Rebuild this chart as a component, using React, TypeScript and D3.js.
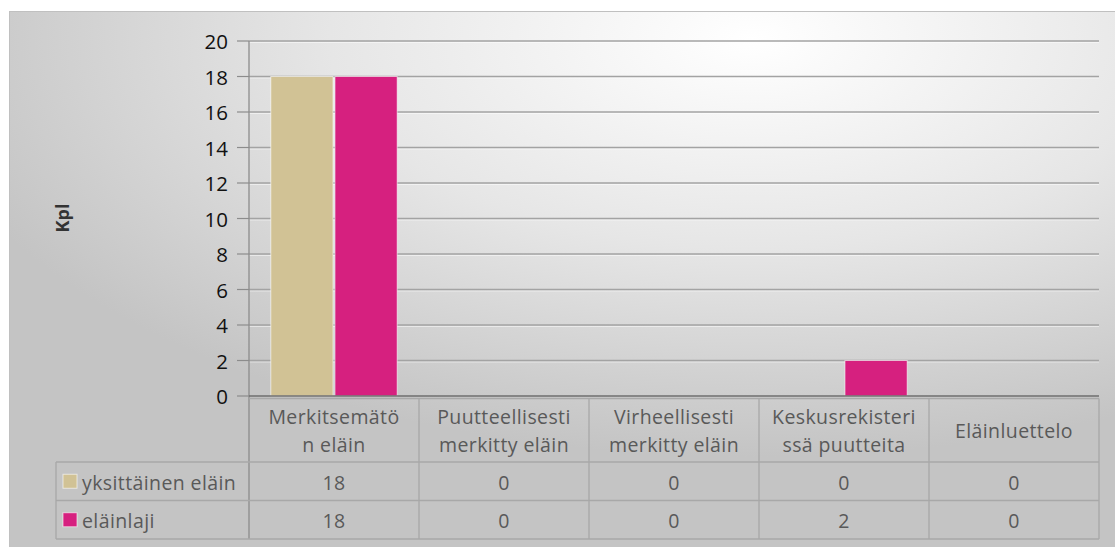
import * as d3 from "d3";

const categories = [
  "Merkitsemätön eläin",
  "Puutteellisesti merkitty eläin",
  "Virheellisesti merkitty eläin",
  "Keskusrekisterissä puutteita",
  "Eläinluettelo",
];
// header lines as wrapped in the original table
const headerLines = [
  ["Merkitsemätö", "n eläin"],
  ["Puutteellisesti", "merkitty eläin"],
  ["Virheellisesti", "merkitty eläin"],
  ["Keskusrekisteri", "ssä puutteita"],
  ["Eläinluettelo"],
];
const seriesNames = ["yksittäinen eläin", "eläinlaji"];
const yksittainen = [18, 0, 0, 0, 0];
const elainlaji = [18, 0, 0, 2, 0];
const seriesColors = ["#d1c295", "#d6207f"];
const yTicks = [0, 2, 4, 6, 8, 10, 12, 14, 16, 18, 20];

const W = 1115;
const H = 547;
const plot = { left: 249, right: 1099, top: 41, bottom: 396 };
const table = { legendLeft: 56, headerBottom: 462, rowH: 38.5 };
const font = "'Open Sans', 'Liberation Sans', sans-serif";

export default function App() {
  const series = [yksittainen, elainlaji];
  const x = d3
    .scaleBand<string>()
    .domain(categories)
    .range([plot.left, plot.right]);
  const inner = d3
    .scaleBand<number>()
    .domain([0, 1])
    .range([0, x.bandwidth()])
    .paddingInner(0.03)
    .paddingOuter(0.34);
  const y = d3.scaleLinear().domain([0, 20]).range([plot.bottom, plot.top]);

  const rowTop = (i: number) => table.headerBottom + i * table.rowH;
  const tableBottom = rowTop(2);
  const gridColor = "#a3a3a3";
  const tableColor = "#a8a8a8";

  return (
    <svg
      width={W}
      height={H}
      style={{ position: "absolute", left: 0, top: 0, display: "block" }}
      fontFamily={font}
    >
      <defs>
        <radialGradient id="bg" cx="0.66" cy="0.05" r="0.75" gradientUnits="objectBoundingBox">
          <stop offset="0" stopColor="#ffffff" />
          <stop offset="0.5" stopColor="#e6e6e6" />
          <stop offset="1" stopColor="#c4c4c4" />
        </radialGradient>
      </defs>
      <rect x={0} y={0} width={W} height={H} fill="#ffffff" />
      <rect x={9.5} y={11.5} width={W + 10} height={H + 10} fill="url(#bg)" stroke="#c0c0c0" />

      {/* gridlines */}
      {yTicks.map((t) => (
        <g key={t}>
          {t > 0 && (
            <>
              <line x1={plot.left} x2={plot.right} y1={y(t) + 1.5} y2={y(t) + 1.5} stroke="#ffffff" strokeOpacity={0.5} />
              <line x1={plot.left} x2={plot.right} y1={y(t)} y2={y(t)} stroke={gridColor} strokeWidth={1.4} />
            </>
          )}
          <line x1={plot.left - 12} x2={plot.left} y1={y(t)} y2={y(t)} stroke="#8c8c8c" strokeWidth={1.2} />
          <text
            x={plot.left - 21}
            y={y(t)}
            textAnchor="end"
            dominantBaseline="central"
            fontSize={20.5}
            fill="#111"
          >
            {t}
          </text>
        </g>
      ))}

      {/* bars */}
      {categories.map((c, ci) => (
        <g key={c}>
          {series.map((s, si) =>
            s[ci] > 0 ? (
              <rect
                key={si}
                x={(x(c) as number) + (inner(si) as number)}
                y={y(s[ci])}
                width={inner.bandwidth()}
                height={y(0) - y(s[ci])}
                fill={seriesColors[si]}
                stroke="#ffffff"
                strokeOpacity={0.6}
                strokeWidth={1}
              />
            ) : null
          )}
        </g>
      ))}

      {/* y axis line and zero line */}
      <line x1={plot.left} x2={plot.left} y1={plot.top} y2={tableBottom} stroke="#8c8c8c" strokeWidth={1.3} />
      <line x1={plot.left} x2={plot.right} y1={plot.bottom} y2={plot.bottom} stroke="#6e6e6e" strokeWidth={1.5} />

      {/* y title */}
      <text
        transform={`translate(62,218) rotate(-90)`}
        textAnchor="middle"
        dominantBaseline="central"
        fontSize={18}
        fontWeight="bold"
        fill="#333"
      >
        Kpl
      </text>

      {/* data table */}
      <g stroke={tableColor} strokeWidth={1.3} fill="none">
        <line x1={plot.left} x2={plot.right} y1={plot.bottom + 2.5} y2={plot.bottom + 2.5} />
        {[0, 1, 2].map((i) => (
          <line key={i} x1={table.legendLeft} x2={plot.right} y1={rowTop(i)} y2={rowTop(i)} />
        ))}
        <line x1={table.legendLeft} x2={table.legendLeft} y1={rowTop(0)} y2={tableBottom} />
        {categories.map((c) => (
          <line
            key={c}
            x1={(x(c) as number) + x.bandwidth()}
            x2={(x(c) as number) + x.bandwidth()}
            y1={plot.bottom + 2.5}
            y2={tableBottom}
          />
        ))}
      </g>
      {categories.map((c, ci) => {
        const cx = (x(c) as number) + x.bandwidth() / 2;
        const lines = headerLines[ci];
        const midY = (plot.bottom + 2 + table.headerBottom) / 2;
        return (
          <g key={c} fill="#595959" fontSize={19.5} textAnchor="middle" letterSpacing={0.4}>
            {lines.map((l, li) => (
              <text
                key={li}
                x={cx}
                y={midY + (li - (lines.length - 1) / 2) * 28}
                dominantBaseline="central"
              >
                {l}
              </text>
            ))}
            {series.map((s, si) => (
              <text key={si} x={cx} y={rowTop(si) + table.rowH / 2 + 1} dominantBaseline="central">
                {s[ci]}
              </text>
            ))}
          </g>
        );
      })}
      {seriesNames.map((n, si) => (
        <g key={n}>
          <rect
            x={table.legendLeft + 7}
            y={rowTop(si) + table.rowH / 2 - 7}
            width={14}
            height={14}
            fill={seriesColors[si]}
            stroke="#ffffff"
            strokeOpacity={0.6}
          />
          <text
            x={table.legendLeft + 26}
            y={rowTop(si) + table.rowH / 2 + 1}
            dominantBaseline="central"
            fontSize={19.5}
            letterSpacing={0.4}
            fill="#595959"
          >
            {n}
          </text>
        </g>
      ))}
    </svg>
  );
}
